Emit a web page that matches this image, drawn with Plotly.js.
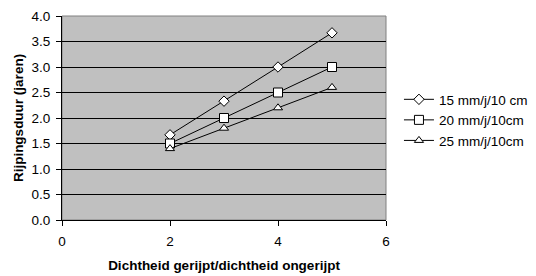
<!DOCTYPE html>
<html><head><meta charset="utf-8">
<script src="https://cdn.plot.ly/plotly-3.0.1.min.js"></script>
<style>body{margin:0;background:#fff}#c{width:536px;height:276px}</style>
</head><body><div id="c"></div>
<script>
const xVals = [2, 3, 4, 5];
const s15 = [1.67, 2.33, 3.0, 3.67];
const s20 = [1.5, 2.0, 2.5, 3.0];
const s25 = [1.4, 1.8, 2.2, 2.6];
const names = ["15 mm/j/10 cm", "20 mm/j/10cm", "25 mm/j/10cm"];
const symbols = ["diamond", "square", "triangle-up"];
const sizes = [8, 9, 8];
const series = [s15, s20, s25];
const traces = series.map((y, i) => ({
  x: xVals, y: y, name: names[i], type: "scatter", mode: "lines+markers",
  line: {color: "#000", width: 1},
  marker: {symbol: symbols[i], size: sizes[i], color: "#fff", line: {color: "#000", width: 1}}
}));
const layout = {
  width: 536, height: 276,
  margin: {l: 62, r: 150, t: 16, b: 56, autoexpand: false},
  paper_bgcolor: "#fff", plot_bgcolor: "#c0c0c0",
  font: {family: "Liberation Sans, Arial, sans-serif", size: 13.5, color: "#000"},
  xaxis: {range: [0, 6], dtick: 2, tick0: 0, showgrid: false, zeroline: false,
    showline: true, linecolor: "#000", linewidth: 1, ticks: "outside", ticklen: 5, tickcolor: "#000",
    ticklabelstandoff: 4,
    title: {text: "<b>Dichtheid gerijpt/dichtheid ongerijpt</b>", font: {size: 13.5}, standoff: 12},
    automargin: false},
  yaxis: {range: [0, 4], dtick: 0.5, tick0: 0, tickformat: ".1f", showgrid: true, gridcolor: "#000", gridwidth: 1,
    zeroline: false, showline: true, linecolor: "#000", linewidth: 1, ticks: "outside", ticklen: 5, tickcolor: "#000",
    ticklabelstandoff: 3,
    title: {text: "<b>Rijpingsduur (jaren)</b>", font: {size: 13.5}, standoff: 4},
    automargin: false},
  shapes: [{type: "rect", xref: "paper", yref: "paper", x0: 0, x1: 1, y0: 0, y1: 1, line: {color: "#808080", width: 1}, layer: "below"}],
  legend: {x: 1.04, y: 0.49, xanchor: "left", yanchor: "middle", bgcolor: "rgba(0,0,0,0)", font: {size: 13.5}, tracegroupgap: 0},
  showlegend: true
};
Plotly.newPlot("c", traces, layout, {staticPlot: true});
</script></body></html>
